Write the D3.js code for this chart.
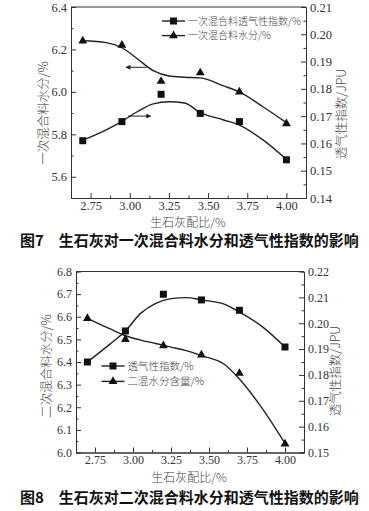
<!DOCTYPE html>
<html>
<head>
<meta charset="utf-8">
<script src="https://cdn.jsdelivr.net/npm/d3@7"></script>
<style>
  body { margin: 0; background: #fff; }
  svg { display: block; }
  .tick text { font-family: 'Liberation Serif', serif; fill: #333; }
  .title { font-family: 'Noto Sans CJK SC', sans-serif; font-weight: 300; fill: #444; }
  .caption { font-family: 'Noto Sans CJK SC', sans-serif; font-weight: 700; fill: #111; }
</style>
</head>
<body>
<div id="chart"></div>
<script>
// shared x categories and ticks
const lime = [2.7, 2.95, 3.2, 3.45, 3.7, 4.0];
const xTicks = [2.75, 3.00, 3.25, 3.50, 3.75, 4.00];
const fitX = [2.7, 2.85, 2.95, 3.05, 3.15, 3.25, 3.35, 3.45, 3.6, 3.7, 3.85, 4.0];

// fig 7
const moist1 = [6.24, 6.22, 6.05, 6.09, 6.00, 5.85];
const perm1 = [0.161, 0.168, 0.178, 0.171, 0.168, 0.154];
const moistFit1 = [6.241, 6.232, 6.208, 6.155, 6.10, 6.075, 6.069, 6.066, 6.028, 6.0, 5.93, 5.855];
const permFit1 = [0.1612, 0.1650, 0.1681, 0.1717, 0.1745, 0.1753, 0.1748, 0.1713, 0.1686, 0.1667, 0.1613, 0.1542];
const leftTicks1 = [5.6, 5.8, 6.0, 6.2, 6.4];
const rightTicks1 = [0.14, 0.15, 0.16, 0.17, 0.18, 0.19, 0.20, 0.21];

// fig 8
const moist2 = [6.593, 6.50, 6.472, 6.431, 6.35, 6.038];
const perm2 = [0.185, 0.197, 0.2112, 0.209, 0.205, 0.1908];
const moistFit2 = [6.593, 6.546, 6.516, 6.497, 6.482, 6.466, 6.45, 6.428, 6.39, 6.325, 6.195, 6.04];
const permFit2 = [0.185, 0.192, 0.197, 0.2038, 0.2077, 0.2095, 0.2099, 0.209, 0.2074, 0.2043, 0.1987, 0.1908];
const leftTicks2 = [6.0, 6.1, 6.2, 6.3, 6.4, 6.5, 6.6, 6.7, 6.8];
const rightTicks2 = [0.15, 0.16, 0.17, 0.18, 0.19, 0.20, 0.21, 0.22];

const W = 369, H = 511;
const svg = d3.select('#chart').append('svg').attr('width', W).attr('height', H);

function drawChart(cfg) {
  const g = svg.append('g');
  const x = d3.scaleLinear().domain([2.625, 4.125]).range([cfg.left, cfg.right]);
  const yL = d3.scaleLinear().domain(cfg.leftDomain).range([cfg.bottom, cfg.top]);
  const yR = d3.scaleLinear().domain(cfg.rightDomain).range([cfg.bottom, cfg.top]);

  // minor ticks
  const minorX = d3.range(2.875, 4.0, 0.25);
  g.append('g').attr('transform', `translate(0,${cfg.bottom})`)
    .call(d3.axisBottom(x).tickValues(minorX).tickSize(-2.5).tickFormat(''));
  g.append('g').attr('transform', `translate(${cfg.left},0)`)
    .call(d3.axisLeft(yL).tickValues(cfg.leftMinor).tickSize(-2.5).tickFormat(''));
  g.append('g').attr('transform', `translate(${cfg.right},0)`)
    .call(d3.axisRight(yR).tickValues(cfg.rightMinor).tickSize(-2.5).tickFormat(''));

  const gX = g.append('g').attr('transform', `translate(0,${cfg.bottom})`)
    .call(d3.axisBottom(x).tickValues(xTicks).tickSizeInner(-5).tickSizeOuter(0)
      .tickPadding(3).tickFormat(d3.format('.2f')));
  const gL = g.append('g').attr('transform', `translate(${cfg.left},0)`)
    .call(d3.axisLeft(yL).tickValues(cfg.leftTicks).tickSizeInner(-5).tickSizeOuter(0)
      .tickPadding(4).tickFormat(d3.format('.1f')));
  const gR = g.append('g').attr('transform', `translate(${cfg.right},0)`)
    .call(d3.axisRight(yR).tickValues(cfg.rightTicks).tickSizeInner(-5).tickSizeOuter(0)
      .tickPadding(4).tickFormat(d3.format('.2f')));
  [gX, gL, gR].forEach(a => a.selectAll('.tick text').style('font-size', cfg.tickFont + 'px'));
  g.selectAll('.domain, .tick line').style('stroke', '#333');

  // top frame
  g.append('line')
    .attr('x1', cfg.left).attr('x2', cfg.right)
    .attr('y1', cfg.top).attr('y2', cfg.top)
    .style('stroke', '#333');

  // fitted curves
  const lineL = d3.line().x((d, i) => x(fitX[i])).y(d => yL(d)).curve(d3.curveMonotoneX);
  const lineR = d3.line().x((d, i) => x(fitX[i])).y(d => yR(d)).curve(d3.curveMonotoneX);
  g.append('path').datum(cfg.moistFit).attr('d', lineL)
    .style('fill', 'none').style('stroke', '#222').style('stroke-width', 1.4);
  g.append('path').datum(cfg.permFit).attr('d', lineR)
    .style('fill', 'none').style('stroke', '#222').style('stroke-width', 1.4);

  // markers
  const tri = d3.symbol().type(d3.symbolTriangle).size(34);
  g.selectAll('.tri').data(cfg.moist).enter().append('path')
    .attr('transform', (d, i) => `translate(${x(lime[i])},${yL(d)})`)
    .attr('d', tri).style('fill', '#111');
  g.selectAll('.sq').data(cfg.perm).enter().append('rect')
    .attr('x', (d, i) => x(lime[i]) - 3.5).attr('y', d => yR(d) - 3.5)
    .attr('width', 7).attr('height', 7).style('fill', '#111');

  // legend
  const lg = g.append('g').attr('transform', `translate(${cfg.legend[0]},${cfg.legend[1]})`);
  cfg.legendText.forEach((t, i) => {
    const row = lg.append('g').attr('transform', `translate(0,${i * cfg.legendGap})`);
    row.append('line').attr('x1', 0).attr('x2', 23).style('stroke', '#222').style('stroke-width', 1.4);
    if (i === cfg.squareRow) {
      row.append('rect').attr('x', 8).attr('y', -3.5).attr('width', 7).attr('height', 7).style('fill', '#111');
    } else {
      row.append('path').attr('transform', 'translate(11.5,0)').attr('d', tri).style('fill', '#111');
    }
    row.append('text').attr('class', 'title').attr('x', 26).attr('dy', '0.35em')
      .style('font-size', cfg.legendFont + 'px').text(t);
  });

  // axis titles
  g.append('text').attr('class', 'title')
    .attr('transform', `translate(${cfg.leftTitle[0]},${cfg.leftTitle[1]}) rotate(-90)`)
    .attr('text-anchor', 'middle').attr('dy', '0.35em').style('font-size', '12.5px').text(cfg.leftLabel);
  g.append('text').attr('class', 'title')
    .attr('transform', `translate(${cfg.rightTitle[0]},${cfg.rightTitle[1]}) rotate(-90)`)
    .attr('text-anchor', 'middle').attr('dy', '0.35em').style('font-size', '12.5px').text('透气性指数/JPU');
  g.append('text').attr('class', 'title')
    .attr('x', cfg.bottomTitle[0]).attr('y', cfg.bottomTitle[1])
    .attr('text-anchor', 'middle').attr('dy', '0.35em').style('font-size', '12px').text('生石灰配比/%');

  // caption
  g.append('text').attr('class', 'caption')
    .attr('x', 20).attr('y', cfg.captionY).attr('dy', '0.35em')
    .style('font-size', '15px').text(cfg.caption);

  return { g, x, yL };
}

const c1 = drawChart({
  left: 71, right: 306, top: 7, bottom: 198,
  leftDomain: [5.5, 6.4], rightDomain: [0.14, 0.21],
  leftTicks: leftTicks1, rightTicks: rightTicks1,
  leftMinor: [5.7, 5.9, 6.1, 6.3], rightMinor: d3.range(0.145, 0.21, 0.01),
  moist: moist1, perm: perm1, moistFit: moistFit1, permFit: permFit1,
  tickFont: 12.5,
  legend: [162, 21], legendGap: 14.6, legendFont: 10, squareRow: 0,
  legendText: ['一次混合料透气性指数/%', '一次混合料水分/%'],
  leftLabel: '一次混合料水分/%', leftTitle: [44, 113], rightTitle: [342, 114],
  bottomTitle: [188, 222.5], captionY: 241,
  caption: '图7　生石灰对一次混合料水分和透气性指数的影响'
});

// direction arrows (in data units of the left axis)
const arrows1 = [
  { from: [3.108, 6.116], to: [2.976, 6.116] },
  { from: [2.989, 5.886], to: [3.134, 5.886] }
];
svg.append('defs').append('marker')
  .attr('id', 'head').attr('viewBox', '0 0 10 10').attr('refX', 9).attr('refY', 5)
  .attr('markerWidth', 6).attr('markerHeight', 5).attr('orient', 'auto')
  .append('path').attr('d', 'M0,0L10,5L0,10Z').style('fill', '#222');
c1.g.selectAll('.arrow').data(arrows1).enter().append('line')
  .attr('x1', d => c1.x(d.from[0])).attr('y1', d => c1.yL(d.from[1]))
  .attr('x2', d => c1.x(d.to[0])).attr('y2', d => c1.yL(d.to[1]))
  .style('stroke', '#222').style('stroke-width', 1).attr('marker-end', 'url(#head)');

drawChart({
  left: 76, right: 304, top: 271.5, bottom: 452.5,
  leftDomain: [6.0, 6.8], rightDomain: [0.15, 0.22],
  leftTicks: leftTicks2, rightTicks: rightTicks2,
  leftMinor: d3.range(6.05, 6.8, 0.1), rightMinor: d3.range(0.155, 0.22, 0.01),
  moist: moist2, perm: perm2, moistFit: moistFit2, permFit: permFit2,
  tickFont: 12,
  legend: [101.5, 366], legendGap: 15.4, legendFont: 10.5, squareRow: 0,
  legendText: ['透气性指数/%', '二混水分含量/%'],
  leftLabel: '二次混合料水分/%', leftTitle: [47, 366], rightTitle: [336, 371],
  bottomTitle: [189, 478], captionY: 498,
  caption: '图8　生石灰对二次混合料水分和透气性指数的影响'
});
</script>
</body>
</html>
